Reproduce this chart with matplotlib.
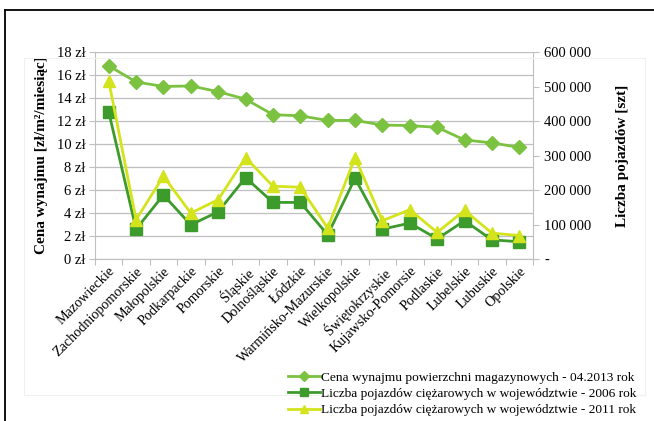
import matplotlib
matplotlib.use("Agg")
import matplotlib.pyplot as plt
from matplotlib.patches import Rectangle
from matplotlib.lines import Line2D
from matplotlib.ticker import FixedLocator, NullFormatter

plt.rcParams['font.family'] = ['Liberation Serif', 'DejaVu Serif']

regions = ["Mazowieckie", "Zachodniopomorskie", "Małopolskie", "Podkarpackie",
           "Pomorskie", "Śląskie", "Dolnośląskie", "Łódzkie",
           "Warmińsko-Mazurskie", "Wielkopolskie", "Świętokrzyskie",
           "Kujawsko-Pomorsie", "Podlaskie", "Lubelskie", "Lubuskie", "Opolskie"]

# rent price, zł per m² per month (04.2013)
rent_2013 = [16.8, 15.4, 15.0, 15.05, 14.55, 13.9, 12.55, 12.45,
             12.05, 12.05, 11.65, 11.6, 11.45, 10.35, 10.1, 9.7]

# number of trucks per voivodeship
trucks_2006 = [427000, 86500, 185500, 99000, 137000, 236000, 164000, 164000,
               70000, 234000, 86500, 104000, 58500, 111000, 55500, 50000]
trucks_2011 = [517000, 114000, 240000, 133000, 172000, 294000, 211000, 208000,
               89500, 294000, 111000, 143000, 77000, 141000, 75000, 68000]

left_ticks = [0, 2, 4, 6, 8, 10, 12, 14, 16, 18]
left_ticklabels = [f"{v} zł" for v in left_ticks]
right_ticks = [0, 100000, 200000, 300000, 400000, 500000, 600000]
right_ticklabels = ["-", "100 000", "200 000", "300 000", "400 000", "500 000", "600 000"]

c_rent = "#7cc241"
c_2006 = "#3d9b2c"
c_2011 = "#d3e31c"
grid_c = "#bfbfbf"

fig = plt.figure(figsize=(6.54, 4.21), dpi=100)

# outer frame (top and left rules) and faint chart-area box
fig.add_artist(Line2D([5 / 654, 1.0], [1 - 10 / 421, 1 - 10 / 421],
                      transform=fig.transFigure, color="black", lw=1.3))
fig.add_artist(Line2D([5 / 654, 5 / 654], [0.0, 1 - 10 / 421],
                      transform=fig.transFigure, color="black", lw=1.3))
fig.add_artist(Rectangle((24 / 654, 1 - 395 / 421), (645 - 24) / 654, (395 - 58) / 421,
                         transform=fig.transFigure, fill=False,
                         edgecolor="#f0f0f0", lw=0.8))

ax = fig.add_axes([95 / 654, 1 - 259 / 421, (533 - 95) / 654, (259 - 52) / 421])
ax2 = ax.twinx()

x = list(range(len(regions)))

ax.set_xlim(-0.5, len(regions) - 0.5)
ax.set_ylim(0, 18)
ax2.set_ylim(0, 600000)

ax.set_yticks(left_ticks)
ax.set_yticklabels(left_ticklabels, fontsize=10.5)
ax2.set_yticks(right_ticks)
ax2.set_yticklabels(right_ticklabels, fontsize=10.5)

ax.yaxis.grid(True, color=grid_c, lw=0.9)
ax.set_axisbelow(True)

# category ticks on boundaries, labels at centers
ax.xaxis.set_major_locator(FixedLocator([i - 0.5 for i in range(len(regions) + 1)]))
ax.xaxis.set_major_formatter(NullFormatter())
ax.xaxis.set_minor_locator(FixedLocator(x))
ax.set_xticklabels(regions, minor=True, rotation=45, ha="right",
                   rotation_mode="anchor", fontsize=10.2)
ax.tick_params(axis="x", which="minor", length=0, pad=4)
ax.tick_params(axis="x", which="major", length=4, color=grid_c, direction="out")
ax.tick_params(axis="y", length=4, color=grid_c, pad=3)
ax2.tick_params(axis="y", length=4, color=grid_c, pad=4)

for a in (ax, ax2):
    for s in a.spines.values():
        s.set_visible(False)
ax.spines["bottom"].set_visible(True)
ax.spines["bottom"].set_color(grid_c)
ax.spines["left"].set_visible(True)
ax.spines["left"].set_color(grid_c)
ax2.spines["right"].set_visible(True)
ax2.spines["right"].set_color(grid_c)

l1, = ax.plot(x, rent_2013, color=c_rent, lw=2.0, marker="D", ms=7,
              label="Cena wynajmu powierzchni magazynowych - 04.2013 rok", zorder=3)
l2, = ax2.plot(x, trucks_2006, color=c_2006, lw=2.0, marker="s", ms=8.5,
               label="Liczba pojazdów ciężarowych w województwie - 2006 rok", zorder=3)
l3, = ax2.plot(x, trucks_2011, color=c_2011, lw=2.0, marker="^", ms=8.5,
               label="Liczba pojazdów ciężarowych w województwie - 2011 rok", zorder=3)

ax.set_ylabel("Cena wynajmu [zł/m²/miesiąc]", fontsize=11, fontweight="bold", labelpad=6)
ax2.set_ylabel("Liczba pojazdów [szt]", fontsize=11, fontweight="bold",
               rotation=90, labelpad=18)

fig.legend(handles=[l1, l2, l3], loc="upper right",
           bbox_to_anchor=(642 / 654, 1 - 366 / 421), frameon=False,
           fontsize=9.6, handlelength=2.4, handletextpad=0.1,
           labelspacing=0.3, markerscale=0.7, borderaxespad=0)

fig.savefig("out.png", dpi=100)
